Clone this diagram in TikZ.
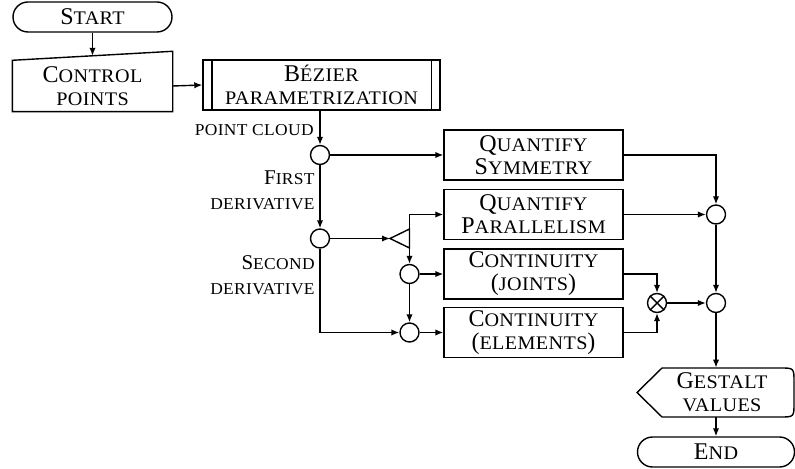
\documentclass[tikz,border=0pt]{standalone}
\usepackage{fontspec}
\setmainfont{Liberation Serif}
\newfontfamily\scfam[FakeStretch=1.05,LetterSpace=2]{Liberation Serif}
\newcommand{\smc}[1]{{\scfam\fontsize{9.6}{11.5}\selectfont #1}}
\newcommand{\smcl}[1]{{\scfam\fontsize{8.3}{12.5}\selectfont #1}}
\newcommand{\boxfont}{\fontsize{12}{11.5}\selectfont}
\newcommand{\lblfont}{\fontsize{10.5}{12.5}\selectfont}
\usetikzlibrary{arrows.meta}
\tikzset{
  flow/.style={line width=0.7pt,-{Latex[length=4pt,width=3.2pt]}},
  proc/.style={draw,line width=0.7pt,minimum width=89.5pt,minimum height=25pt,inner sep=0pt,align=center,font=\boxfont},
  term/.style={draw,line width=0.7pt,rounded corners=7.5pt,minimum height=15pt,inner sep=0pt,align=center,font=\boxfont},
  junc/.style={draw,circle,line width=0.7pt,minimum size=9.5pt,inner sep=0pt},
  lbl/.style={anchor=east,inner sep=0pt,align=right,font=\lblfont},
}

\begin{document}
\begin{tikzpicture}[x=0.5pt,y=-0.5pt]
\useasboundingbox (0,0) rectangle (795,469);

%start and input
\node[term,minimum width=79.5pt] (start) at (92.5,17) {S\smc{TART}};
\node[proc,draw=none,minimum width=79.5pt] (ctrl) at (92.5,86) {C\smc{ONTROL}\\\smc{POINTS}};
\draw[line width=0.7pt] (ctrl.south west) -- (ctrl.south east) -- ([yshift=4.5pt]ctrl.north east) -- (ctrl.north west) -- cycle;
\coordinate (ctrlin) at ([yshift=2.25pt]ctrl.north);

%bezier
\node[proc,minimum width=118.5pt] (bez) at (321.5,85) {B\smc{ÉZIER}\\\smc{PARAMETRIZATION}};
\draw[line width=0.7pt] ([xshift=4.75pt]bez.north west) -- ([xshift=4.75pt]bez.south west);
\draw[line width=0.7pt] ([xshift=-4.75pt]bez.north east) -- ([xshift=-4.75pt]bez.south east);

%junctions
\node[junc] (c1) at (320,155) {};
\node[junc] (c2) at (320,238.5) {};
\node[junc] (c3) at (409.5,274) {};
\node[junc] (c4) at (409.5,332.5) {};
\node[junc] (c5) at (716,214.5) {};
\node[junc] (c6) at (716,303) {};
\node[junc] (ox) at (657,303) {};
\draw[line width=0.7pt] (ox.north west) -- (ox.south east) (ox.north east) -- (ox.south west);

%labels
\node[lbl] (pcl) at (314,130) {\smcl{POINT CLOUD}};
\node[lbl] (fder) at (315,190) {F\smcl{IRST}\\\smcl{DERIVATIVE}};
\node[lbl] (sder) at (315,275) {S\smcl{ECOND}\\\smcl{DERIVATIVE}};

%splitter
\coordinate (sptip) at (390,238.5);
\coordinate (sptop) at (409.5,229);
\coordinate (spbot) at (409.5,248);
\draw[line width=0.7pt] (sptop) -- (sptip) -- (spbot) -- cycle;

%tasks
\node[proc] (qsym) at (533.5,155) {Q\smc{UANTIFY}\\S\smc{YMMETRY}};
\node[proc] (qpar) at (533.5,214.5) {Q\smc{UANTIFY}\\P\smc{ARALLELISM}};
\node[proc] (contj) at (533.5,274) {C\smc{ONTINUITY}\\(\smc{JOINTS})};
\node[proc] (conte) at (533.5,332.5) {C\smc{ONTINUITY}\\(\smc{ELEMENTS})};

%output
\node[align=center,inner sep=0pt,font=\boxfont,minimum height=24.5pt] (gst) at (722,392.5) {G\smc{ESTALT}\\\smc{VALUES}};
\draw[line width=0.7pt] (637,392.5) -- (662,368) -- (780,368) .. controls (794,368) .. (794,382) -- (794,403) .. controls (794,417) .. (780,417) -- (662,417) -- cycle;
\node[term,minimum width=78.5pt] (end) at (716,452) {E\smc{ND}};

%flow
\draw[flow] (start) -- (ctrlin);
\draw[flow] (ctrl.east) -- (bez.west);
\draw[flow] (bez.south -| c1) -- (c1);
\draw[flow] (c1) -- (qsym);
\draw[flow] (c1) -- (c2);
\draw[flow] (c2) -- (sptip);
\draw[flow] (sptop) |- (qpar);
\draw[flow] (spbot) -- (c3);
\draw[flow] (c3) -- (contj);
\draw[flow] (c3) -- (c4);
\draw[flow] (c2) |- (c4);
\draw[flow] (c4) -- (conte);
\draw[flow] (qsym) -| (c5);
\draw[flow] (qpar) -- (c5);
\draw[flow] (contj) -| (ox);
\draw[flow] (conte) -| (ox);
\draw[flow] (ox) -- (c6);
\draw[flow] (c5) -- (c6);
\draw[flow] (c6) -- (c6 |- gst.north);
\draw[flow] (gst.south -| end) -- (end);

\end{tikzpicture}
\end{document}
